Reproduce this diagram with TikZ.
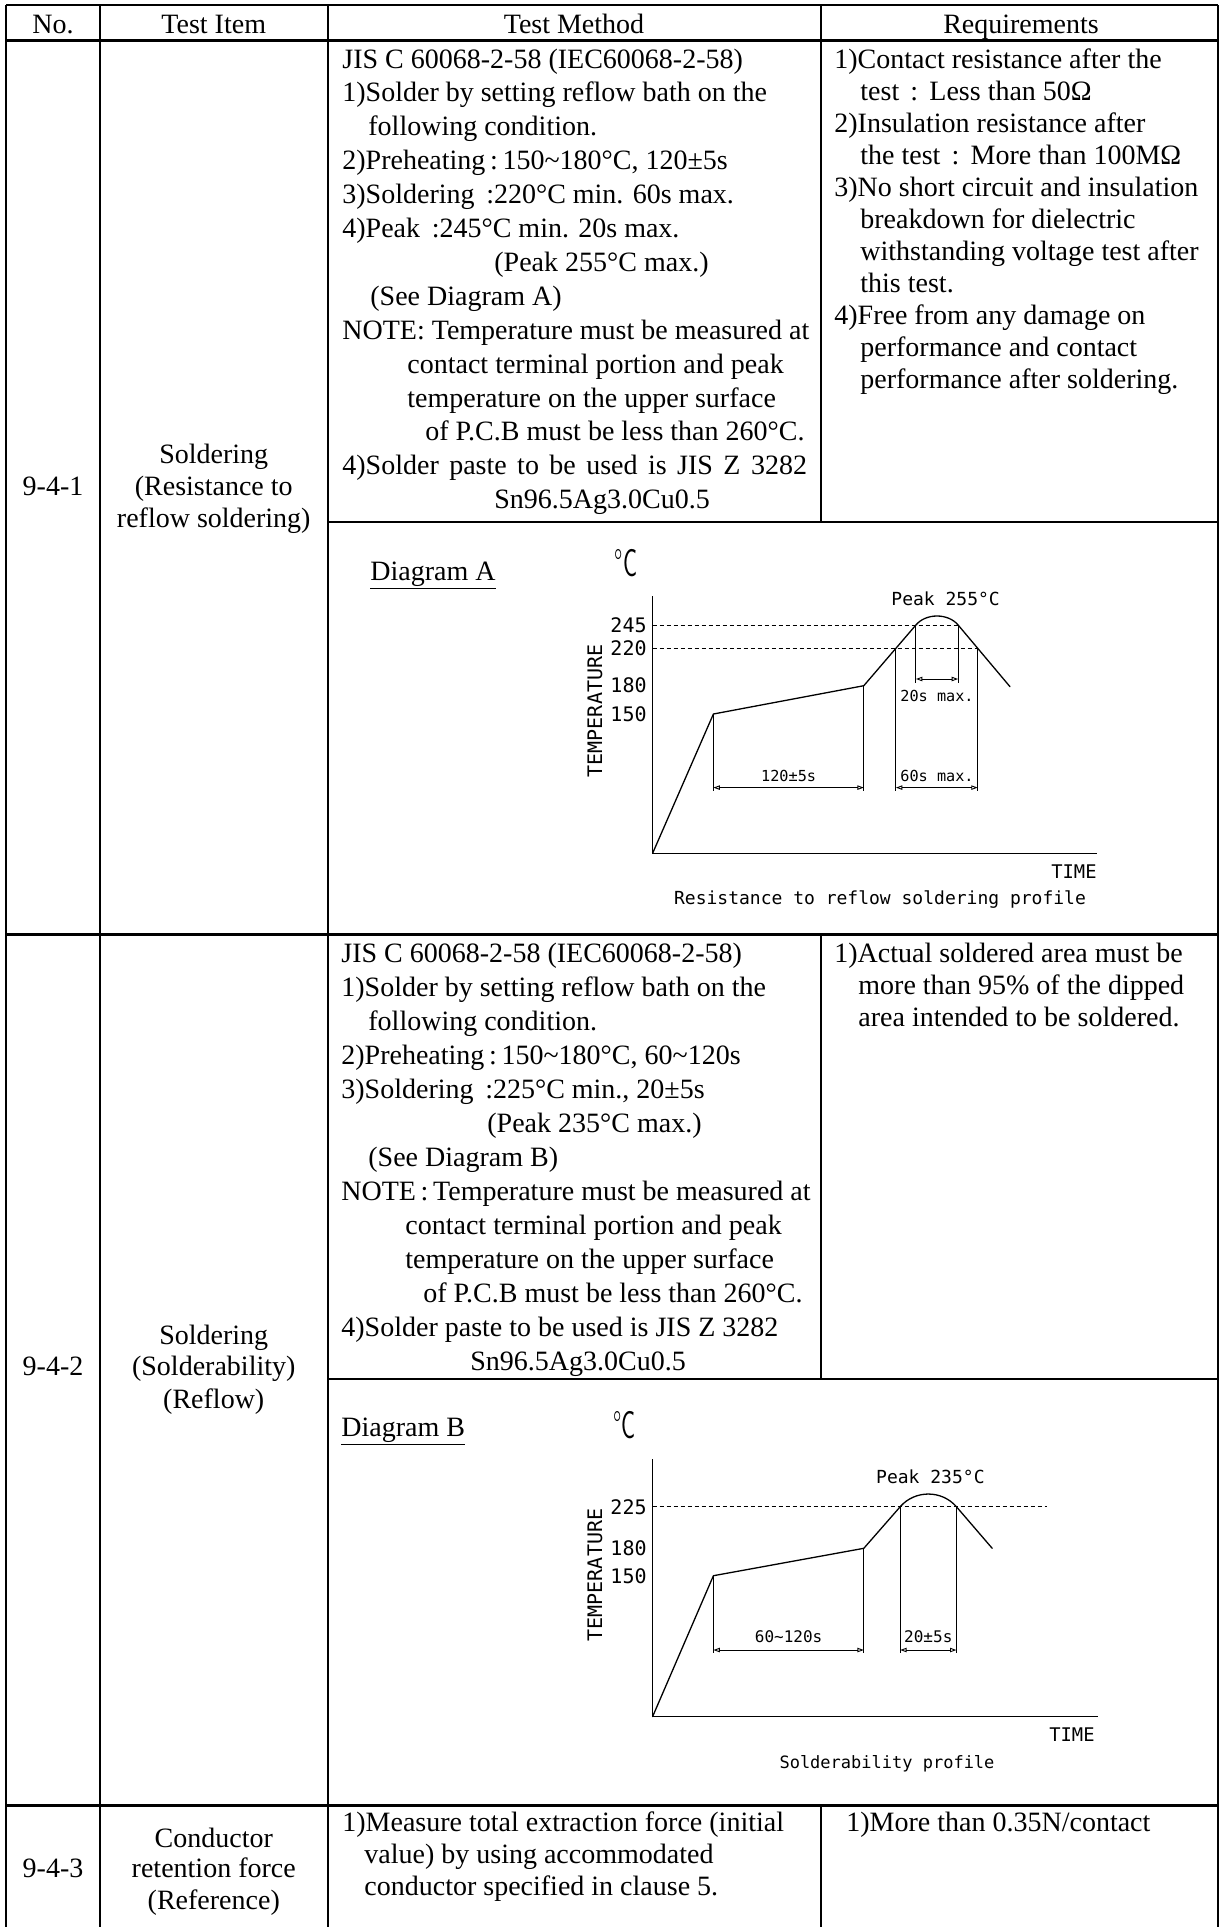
\documentclass[tikz,border=0pt]{standalone}
\usepackage{fontspec}
\setmainfont{Liberation Serif}
\newfontfamily\cadfam{DejaVu Sans Mono}
\usetikzlibrary{arrows.meta}
\newcommand\bodyf{\fontsize{14}{16}\selectfont}
\newcommand\cadf[1]{\cadfam\fontsize{#1}{#1}\selectfont}
\newcommand\cadp[1]{\sffamily\fontsize{#1}{#1}\selectfont}
\begin{document}
\begin{tikzpicture}[x=0.5pt,y=-0.5pt,
  grid/.style={line width=1pt},
  gridb/.style={line width=1.5pt},
  tl/.style={anchor=base west,inner sep=0pt,font=\bodyf},
  tc/.style={anchor=base,inner sep=0pt,font=\bodyf},
  crv/.style={line width=0.65pt,line join=round,line cap=round},
  fine/.style={line width=0.45pt},
  lvl/.style={line width=0.45pt,dash pattern=on 2.2pt off 1.3pt},
  dimarr/.style={line width=0.45pt,{Triangle[open,length=3.2pt,width=2.2pt]}-{Triangle[open,length=3.2pt,width=2.2pt]}},
  tick/.style={anchor=east,inner sep=0pt,font={\cadf{10}}},
  lab/.style={inner sep=0pt,font={\cadf{7.6}}},
  labb/.style={inner sep=0pt,font={\cadf{8}}},
  degc/.style={inner sep=0pt,font={\cadp{19.5}}}]
\useasboundingbox (0,0) rectangle (1223,1927);
\fill[white] (0,0) rectangle (1223,1927);

% ---------------- table grid ----------------
\draw[grid] (6,5) -- (1218,5);
\draw[grid] (6,5) -- (6,1927);
\draw[grid] (1218,5) -- (1218,1927);
\draw[grid] (100,5) -- (100,1927);
\draw[grid] (327.5,5) -- (327.5,1927);
\draw[gridb] (6,40) -- (1218,40);
\draw[grid] (820.5,5) -- (820.5,522);
\draw[grid] (820.5,934) -- (820.5,1379);
\draw[grid] (820.5,1805) -- (820.5,1927);
\draw[grid] (327.5,522) -- (1218,522);
\draw[gridb] (6,934) -- (1218,934);
\draw[grid] (327.5,1379) -- (1218,1379);
\draw[gridb] (6,1805) -- (1218,1805);

% ---------------- header ----------------
\node[tc] (hNo) at (53,33) {No.};
\node[tc] (hItem) at (213.75,33) {Test Item};
\node[tc] (hMeth) at (574,33) {Test Method};
\node[tc] (hReq) at (1021,33) {Requirements};

% ---------------- row 9-4-1 ----------------
\node[tc] (no1) at (53,495) {9-4-1};
\node[tc] (it1a) at (213.75,463) {Soldering};
\node[tc] (it1b) at (213.75,495) {(Resistance to};
\node[tc] (it1c) at (213.75,527) {reflow soldering)};

\node[tl] (mA0) at (342,68) {JIS C 60068-2-58 (IEC60068-2-58)};
\node[tl] (mA1) at (342,101.9) {1)Solder by setting reflow bath on the};
\node[tl] (mA2) at (368,135.8) {following condition.};
\node[tl] (mA3) at (342,169.7) {2)Preheating\,:\,150\textasciitilde 180°C, 120±5s};
\node[tl] (mA4) at (342,203.6) {3)Soldering\ \,:220°C min. 60s max.};
\node[tl] (mA5) at (342,237.5) {4)Peak\ \,:245°C min. 20s max.};
\node[tl] (mA6) at (494,271.4) {(Peak 255°C max.)};
\node[tl] (mA7) at (370,305.3) {(See Diagram A)};
\node[tl] (mA8) at (342,339.2) {NOTE: Temperature must be measured at};
\node[tl] (mA9) at (407,373.1) {contact terminal portion and peak};
\node[tl] (mA10) at (407,407) {temperature on the upper surface};
\node[tl] (mA11) at (425,440.9) {of P.C.B must be less than 260°C.};
\node[tl] (mA12) at (342,474.8) {\makebox[232.3pt][s]{4)Solder paste to be used is JIS Z 3282}};
\node[tl] (mA13) at (494,508.7) {Sn96.5Ag3.0Cu0.5};

\node[tl] (rA0) at (834,68) {1)Contact resistance after the};
\node[tl] (rA1) at (860,100) {test\hspace{0.4em}:\hspace{0.4em}Less than 50Ω};
\node[tl] (rA2) at (834,132) {2)Insulation resistance after};
\node[tl] (rA3) at (860,164) {the test\hspace{0.4em}:\hspace{0.4em}More than 100MΩ};
\node[tl] (rA4) at (834,196) {3)No short circuit and insulation};
\node[tl] (rA5) at (860,228) {breakdown for dielectric};
\node[tl] (rA6) at (860,260) {withstanding voltage test after};
\node[tl] (rA7) at (860,292) {this test.};
\node[tl] (rA8) at (834,324) {4)Free from any damage on};
\node[tl] (rA9) at (860,356) {performance and contact};
\node[tl] (rA10) at (860,388) {performance after soldering.};

% ---------------- Diagram A ----------------
\node[tl] (dA) at (370,580) {\underline{Diagram A}};
\node[degc] (degA) at (626,563) {\scalebox{0.6}[1]{°C}};
\node[inner sep=0pt,font={\cadf{9}}] (pkA) at (945.6,599) {Peak 255°C};
\node[tick] (tA245) at (647,625) {245};
\node[tick] (tA220) at (647,648.3) {220};
\node[tick] (tA180) at (647,685.7) {180};
\node[tick] (tA150) at (647,714) {150};
\node[inner sep=0pt,rotate=90,font={\cadf{10}}] (tempA) at (595,711) {TEMPERATURE};
\coordinate (oA) at (652.6,853.3);
\coordinate (yA) at (652.6,596);
\coordinate (xA) at (1097,853.3);
\coordinate (a150) at (713.4,714);
\coordinate (a180) at (863.8,685.7);
\coordinate (a245r) at (915.9,625);
\coordinate (a245f) at (958.1,625);
\coordinate (a220r) at (895.9,648.3);
\coordinate (a220f) at (977.7,648.3);
\coordinate (aend) at (1010,686.7);
\draw[fine] (yA) -- (oA) -- (xA);
\draw[lvl] (652.6,625) -- (a245f);
\draw[lvl] (652.6,648.3) -- (a220f);
\draw[crv] (oA) -- (a150) -- (a180) -- (a245r) .. controls (925.9,613) and (948.1,613) .. (a245f) -- (aend);
\draw[fine] (a245r) -- (915.9,683);
\draw[fine] (a245f) -- (958.1,683);
\draw[fine] (a220r) -- (895.9,791);
\draw[fine] (a220f) -- (977.7,791);
\draw[fine] (a150) -- (713.4,791);
\draw[fine] (a180) -- (863.8,791);
\draw[dimarr] (915.9,679) -- (958.1,679);
\draw[dimarr] (713.4,787.6) -- (863.8,787.6);
\draw[dimarr] (895.9,787.6) -- (977.7,787.6);
\node[lab] (l20A) at (937,696) {20s max.};
\node[lab] (l120A) at (788.6,776) {120±5s};
\node[lab] (l60A) at (937,776) {60s max.};
\node[anchor=east,inner sep=0pt,font={\cadf{9.4}}] (timeA) at (1097,871.6) {TIME};
\node[inner sep=0pt,font={\cadf{9}}] (capA) at (880,900) {Resistance to reflow soldering profile};

% ---------------- row 9-4-2 ----------------
\node[tc] (no2) at (53,1375) {9-4-2};
\node[tc] (it2a) at (213.75,1344) {Soldering};
\node[tc] (it2b) at (213.75,1375) {(Solderability)};
\node[tc] (it2c) at (213.75,1408) {(Reflow)};

\node[tl] (mB0) at (341,962) {JIS C 60068-2-58 (IEC60068-2-58)};
\node[tl] (mB1) at (341,996) {1)Solder by setting reflow bath on the};
\node[tl] (mB2) at (368,1030) {following condition.};
\node[tl] (mB3) at (341,1064) {2)Preheating\,:\,150\textasciitilde 180°C, 60\textasciitilde 120s};
\node[tl] (mB4) at (341,1098) {3)Soldering\ \,:225°C min., 20±5s};
\node[tl] (mB5) at (487,1132) {(Peak 235°C max.)};
\node[tl] (mB6) at (368,1166) {(See Diagram B)};
\node[tl] (mB7) at (341,1200) {NOTE\,:\,Temperature must be measured at};
\node[tl] (mB8) at (405,1234) {contact terminal portion and peak};
\node[tl] (mB9) at (405,1268) {temperature on the upper surface};
\node[tl] (mB10) at (423,1302) {of P.C.B must be less than 260°C.};
\node[tl] (mB11) at (341,1336) {4)Solder paste to be used is JIS Z 3282};
\node[tl] (mB12) at (470,1370) {Sn96.5Ag3.0Cu0.5};

\node[tl] (rB0) at (834,962) {1)Actual soldered area must be};
\node[tl] (rB1) at (858,994) {more than 95\% of the dipped};
\node[tl] (rB2) at (858,1026) {area intended to be soldered.};

% ---------------- Diagram B ----------------
\node[tl] (dB) at (341,1436) {\underline{Diagram B}};
\node[degc] (degB) at (624.4,1425) {\scalebox{0.6}[1]{°C}};
\node[inner sep=0pt,font={\cadf{9}}] (pkB) at (930.4,1476.7) {Peak 235°C};
\node[tick] (tB225) at (647,1506.7) {225};
\node[tick] (tB180) at (647,1548.3) {180};
\node[tick] (tB150) at (647,1575.7) {150};
\node[inner sep=0pt,rotate=90,font={\cadf{10}}] (tempB) at (595,1575) {TEMPERATURE};
\coordinate (oB) at (652.6,1716.6);
\coordinate (yB) at (652.6,1459.3);
\coordinate (xB) at (1098,1716.6);
\coordinate (b150) at (713.4,1575.7);
\coordinate (b180) at (863.8,1548.3);
\coordinate (b225r) at (900.2,1506.7);
\coordinate (b225f) at (956.4,1506.7);
\coordinate (bend) at (992.2,1548.3);
\draw[fine] (yB) -- (oB) -- (xB);
\draw[lvl] (652.6,1506.7) -- (1047.2,1506.7);
\draw[crv] (oB) -- (b150) -- (b180) -- (b225r) .. controls (914.9,1489.8) and (941.7,1489.8) .. (b225f) -- (bend);
\draw[fine] (b150) -- (713.4,1653);
\draw[fine] (b180) -- (863.8,1653);
\draw[fine] (b225r) -- (900.2,1653);
\draw[fine] (b225f) -- (956.4,1653);
\draw[dimarr] (713.4,1650) -- (863.8,1650);
\draw[dimarr] (900.2,1650) -- (956.4,1650);
\node[labb] (l60B) at (788.6,1637) {60\textasciitilde 120s};
\node[labb] (l20B) at (928.3,1637) {20±5s};
\node[anchor=east,inner sep=0pt,font={\cadf{9.4}}] (timeB) at (1095,1735) {TIME};
\node[inner sep=0pt,font={\cadf{8.5}}] (capB) at (887,1763.3) {Solderability profile};

% ---------------- row 9-4-3 ----------------
\node[tc] (no3) at (53,1877) {9-4-3};
\node[tc] (it3a) at (213.75,1847) {Conductor};
\node[tc] (it3b) at (213.75,1877) {retention force};
\node[tc] (it3c) at (213.75,1909) {(Reference)};
\node[tl] (mC0) at (342,1831) {1)Measure total extraction force (initial};
\node[tl] (mC1) at (364,1863) {value) by using accommodated};
\node[tl] (mC2) at (364,1895) {conductor specified in clause 5.};
\node[tl] (rC0) at (846,1831) {1)More than 0.35N/contact};
\end{tikzpicture}
\end{document}
